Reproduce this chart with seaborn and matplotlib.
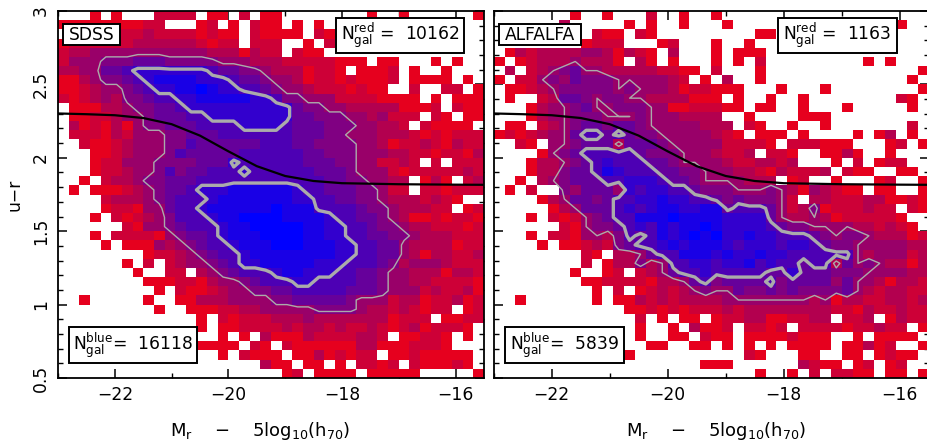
import numpy as np
import pandas as pd
import matplotlib
matplotlib.use("Agg")
import matplotlib.pyplot as plt
from matplotlib.colors import LinearSegmentedColormap
from matplotlib.patches import Rectangle
import seaborn as sns

# log-density level per cell, 0 (red) .. 9 (blue), '.' = empty; 40 rows (u-r 3 -> 0.5), 40 columns (Mr -23 -> -15.5)
sdss_rows = [
"...0.0...1111.00.1.00" "........0..0......0",
"0000000011...01.0.100" ".0.0...............",
".1111111211110100.100" "00.10..............",
"01111112222221011.111" "..0.1..............",
"122333333333332220211" ".100...............",
"133344455544444333222" "11111000.00...0.0..",
"223355677777776554432" "220110.0001.0..0...",
"002344567888877765543" "32011010001.0000.0.",
"001233456778898776654" "3321110100..1..11.0",
"101232445667788888776" "4433311110000.0.000",
".00022344556777777777" "754433222220001.100",
".00112334555667777777" "7554443323111.10.00",
".20102034455566667777" "655544433221.10000.",
".11102133344555666666" "6555443332221010111",
"..1001233344655555566" "6554444332011210211",
"...001233346555556666" "6655444333221101102",
"...011333444455576666" "6655544331121.1.111",
"...011233464556667666" "6665554333101111121",
"..0.12234455566666666" "666655443322.020.12",
".0.000123455677788888" "876655544311.110111",
"....12223456667888888" "87766554432221210..",
"....01103356678888889" "8886666544322211.01",
"...0.1012346667889999" "8888766554320010110",
"......103345666788999" "9988776654432211101",
"...0.1111034556788899" "9988776655443222111",
"....0.000323456678889" "9988877665532222011",
"........0112345667888" "8888877665532022112",
"......0.1.12334567788" "8887776665423332111",
".......0..11.23456667" "8877766554332220221",
"........0001102334566" "6776666554332211110",
".........0.1001233445" "5666665554333121120",
"..0.....0..0022233334" "4555554333122011201",
".........0..000112233" "3334444322121011.01",
".............0.101112" "22322222220111.0011",
".............0.001111" "212212112101201110.",
"...............0.0.20" "0021111221.00110.0.",
".............0000.10." "1000000220001110...",
"...............0.1000" ".00201011.00100000.",
"...................20" "0.00.0.1101.100010.",
"....................." "01.0000.00000.....0",
]
alfalfa_rows = [
".......0..0...1..0..0" "...................",
"......2.....0.0..0..." "0...............0..",
".........100.10......" "...00..............",
"........0111...01...0" "..0................",
".02122223320210.2...0" ".000...............",
"0.0122232220.20.0...0" ".0.1.........0.0...",
".2.1234533222221100.1" "...0..............0",
"0.1134354443333321.0." "2..0.............0.",
".00123444443433320110" "00...0...0........0",
".0..12554344332222000" ".0..0..0........10.",
"...023345334443300111" "00.00..0...0.....0.",
"...023344433343332222" "..0....000.........",
".00.12345545543333322" "2.10..0..0.......1.",
"010123356656544333332" "10.000.0....0.02.0.",
"..10.3345552555433333" "11110.111000...01.0",
"....03456666654443332" "112.110..0020..0...",
"...022345676665543333" "2112212...0.1.011..",
"...022455687666554433" "3221021112.100..00.",
"..0.23455566777655433" "33222.01..0...01..0",
".0.1..435553767766544" "4333432032100.00..0",
"....02355456677877665" "4544431.22111220010",
".....0235556767887788" "5666531240111211.10",
"...0.1013456688898888" "77775322320111110..",
"......103445676878898" "777765443333221210.",
"...0.1103324656878989" "7787766654344322201",
"....0.001214566787888" "7677767765443333322",
"........10.2235668887" "8778776666663233312",
"........1.02242366776" "7786766566253432202",
".......0..01.12356676" "6666557555444333322",
"........0011110223564" "5555645555353320221",
".........0.1.01212343" "3544545444453212211",
"..0......0.0021212222" "3333333323022112212",
"............001010111" "2122222222110211211",
".............1.0.00.0" "1122001122.112.0211",
".............0..0.200" "1.1101.1111011211.0",
".............0..00.10" "0.00001000..0.0000.",
"..............00..00." "0.0.0.0000.00201..0",
"............0........" "..10...00..00.0100.",
"...................00" "0......2100.01.01..",
"....................." "...0..0.1.1100.00.0",
]
dividing_mr = [-23, -22.5, -22, -21.5, -21, -20.5, -20, -19.5, -19, -18.5, -18, -17, -16, -15.5]
dividing_ur = [2.302, 2.297, 2.29, 2.271, 2.229, 2.151, 2.044, 1.943, 1.876, 1.842, 1.827, 1.82, 1.817, 1.816]
x_major = [-22, -20, -18, -16]
x_minor = [-23, -21, -19, -17]
y_major = [0.5, 1, 1.5, 2, 2.5, 3]
y_major_labels = ["0.5", "1", "1.5", "2", "2.5", "3"]
panel_names = ["SDSS", "ALFALFA"]
n_red = ["10162", "1163"]
n_blue = ["16118", "5839"]
thin_level = [3.5, 3.0]
thick_level = [6.5, 5.5]

XMIN, DX, YTOP, DY = -23.0, 0.1875, 3.0, 0.0625
W, H = 927, 445
FS = 12.3

sns.set_style("ticks")
plt.rcParams["font.family"] = ["DejaVu Sans"]
plt.rcParams["mathtext.fontset"] = "custom"
plt.rcParams["mathtext.rm"] = "DejaVu Sans"
plt.rcParams["mathtext.default"] = "regular"
for key in ["text.color", "axes.labelcolor", "xtick.color", "ytick.color", "axes.edgecolor"]:
    plt.rcParams[key] = "black"

cmap = LinearSegmentedColormap.from_list("rb", ["#E6001E", "#0000FF"])


def to_frame(rows):
    grid = [[np.nan if c == "." else int(c) for c in r.ljust(40, ".")[:40]] for r in rows]
    return pd.DataFrame(np.array(grid, dtype=float))


def px_axes(left, right, top=11, bottom=378):
    return [left / W, 1 - bottom / H, (right - left) / W, (bottom - top) / H]


fig = plt.figure(figsize=(W / 100, H / 100), dpi=100)
boxes = [
    [(63, 24, 120, 45), (336, 18, 464, 53), (69, 327, 197, 363)],
    [(499, 24, 581, 45), (778, 18, 897, 53), (505, 327, 624, 363)],
]
label_x = [0.474, 0.511]
for k, (rows, lims) in enumerate(zip([sdss_rows, alfalfa_rows], [(58, 484), (493.7, 928.7)])):
    ax = fig.add_axes(px_axes(*lims))
    df = to_frame(rows)
    sns.heatmap(df, ax=ax, cmap=cmap, vmin=0, vmax=9, cbar=False, square=False,
                xticklabels=False, yticklabels=False, linewidths=0)
    Z = df.fillna(-1).values
    xc = np.arange(40) + 0.5
    ax.contour(xc, xc, Z, levels=[thin_level[k]], colors="#ABABAB", linewidths=1.0)
    ax.contour(xc, xc, Z, levels=[thick_level[k]], colors="#ABABAB", linewidths=2.4)
    ax.plot((np.array(dividing_mr) - XMIN) / DX, (YTOP - np.array(dividing_ur)) / DY,
            color="black", lw=1.6)
    ax.set_xlim(0, 40)
    ax.set_ylim(40, 0)
    ax.set_xticks([(x - XMIN) / DX for x in x_major])
    ax.set_xticklabels(["\u2212%d" % abs(x) for x in x_major], fontsize=FS)
    ax.set_xticks([(x - XMIN) / DX for x in x_minor], minor=True)
    ax.set_yticks([(YTOP - y) / DY for y in y_major])
    ax.set_yticks([(YTOP - v / 10) / DY for v in range(5, 31) if v % 5], minor=True)
    if k == 0:
        ax.set_yticklabels(y_major_labels, rotation=90, va="center", fontsize=FS)
        ax.set_ylabel("u\u2212r", fontsize=FS, labelpad=6)
    else:
        ax.set_yticklabels([])
    ax.tick_params(axis="both", which="major", direction="in", length=6.5, width=1.1,
                   top=True, right=True, pad=6)
    ax.tick_params(axis="both", which="minor", direction="in", length=3.5, width=1.0,
                   top=True, right=True)
    for s in ax.spines.values():
        s.set_visible(True)
        s.set_linewidth(1.3)
    ax.set_xlabel("M$_{r}$    \u2212    5log$_{10}$(h$_{70}$)", fontsize=FS + 0.7, labelpad=11)
    ax.xaxis.label.set_x(label_x[k])

    labels = [panel_names[k],
              "N$_{gal}^{red}$ =  " + n_red[k],
              "N$_{gal}^{blue}$=  " + n_blue[k]]
    for (x0, y0, x1, y1), txt in zip(boxes[k], labels):
        fig.add_artist(Rectangle((x0 / W, 1 - y1 / H), (x1 - x0) / W, (y1 - y0) / H,
                                 transform=fig.transFigure, fc="white", ec="black", lw=1.4, zorder=5))
        fig.text((x0 + x1) / 2 / W, 1 - (y0 + y1) / 2 / H, txt, ha="center", va="center",
                 fontsize=FS, zorder=6, color="black")

fig.savefig("out.png", dpi=100)
